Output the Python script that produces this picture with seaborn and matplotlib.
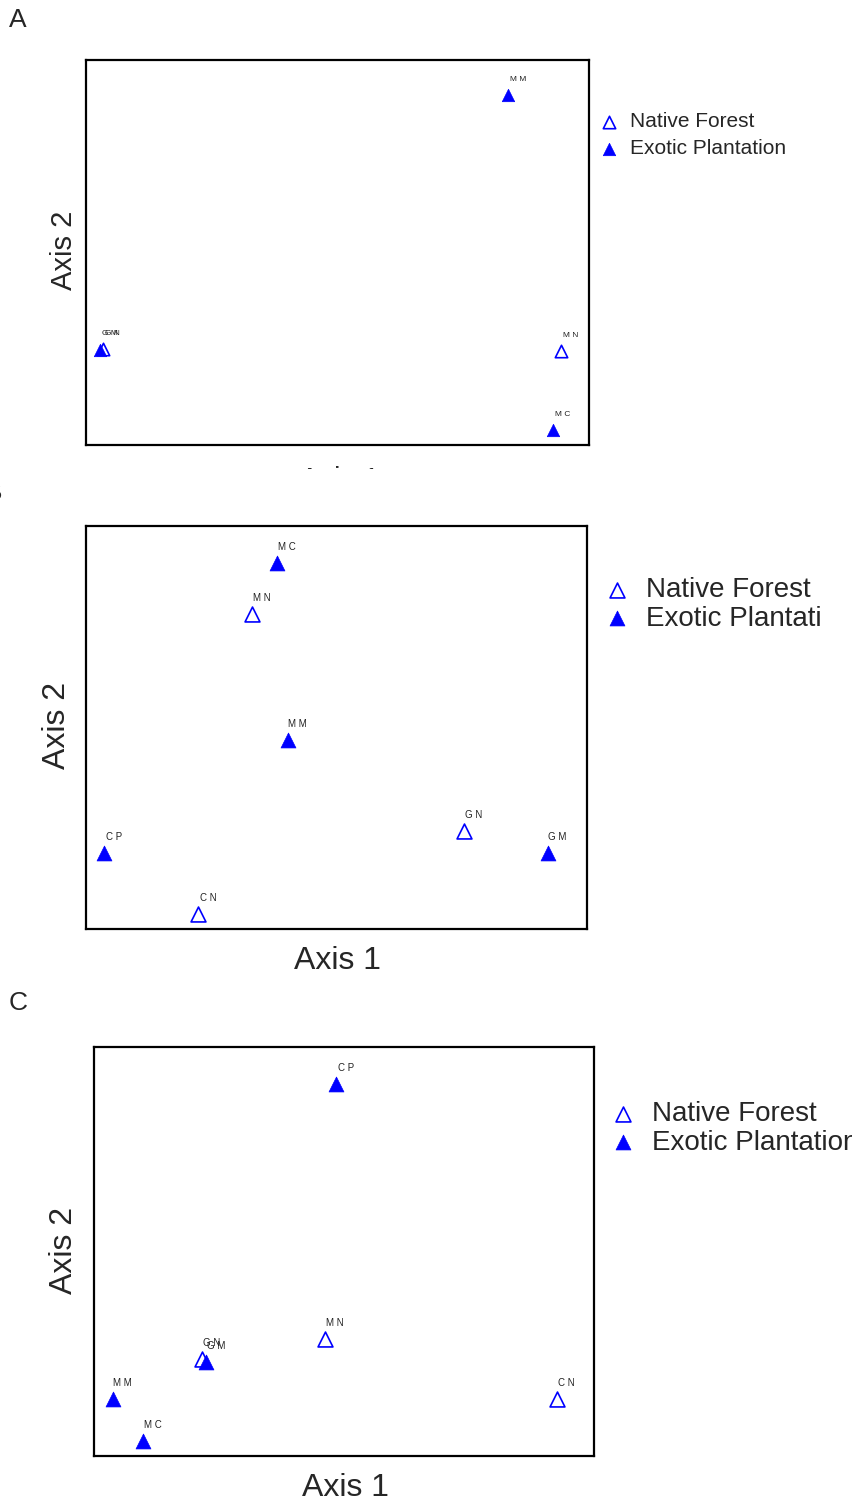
import matplotlib
matplotlib.use("Agg")
import matplotlib.pyplot as plt
from matplotlib.patches import Rectangle
import seaborn as sns
import pandas as pd

sns.set_style("white")
plt.rcParams["font.family"] = ["Liberation Sans", "DejaVu Sans"]

# ordination scores (scaled 0-100 on each axis)
sites_a = ["MM", "GM", "GN", "MN", "MC"]
x_a = [83.9, 2.8, 3.4, 94.4, 92.8]
y_a = [90.9, 24.7, 24.9, 24.4, 3.9]
type_a = ["Exotic", "Exotic", "Native", "Native", "Exotic"]

sites_b = ["MC", "MN", "MM", "GN", "GM", "CP", "CN"]
x_b = [38.1, 33.1, 40.3, 75.4, 92.2, 3.6, 22.4]
y_b = [90.8, 78.2, 46.9, 24.3, 18.9, 18.9, 3.7]
type_b = ["Exotic", "Native", "Exotic", "Native", "Exotic", "Exotic", "Native"]

sites_c = ["CP", "MN", "GN", "GM", "MM", "MC", "CN"]
x_c = [48.4, 46.2, 21.6, 22.4, 3.8, 9.8, 92.6]
y_c = [91.0, 28.6, 23.7, 23.0, 13.9, 3.7, 13.9]
type_c = ["Exotic", "Native", "Native", "Exotic", "Exotic", "Exotic", "Native"]

W, H = 853, 1504
fig = plt.figure(figsize=(W / 100, H / 100), dpi=100)


def px_box(x0, y0, x1, y1):
    return [x0 / W, 1 - y1 / H, (x1 - x0) / W, (y1 - y0) / H]


def panel(box, sites, xs, ys, types, msize, lab_fs):
    ax = fig.add_axes(px_box(*box))
    df = pd.DataFrame({"site": sites, "x": xs, "y": ys, "type": types})
    nat = df[df["type"] == "Native"]
    exo = df[df["type"] == "Exotic"]
    sns.scatterplot(data=nat, x="x", y="y", marker="^", s=msize, color="white",
                    edgecolor="blue", linewidth=1.2, label="Native Forest", ax=ax, zorder=3)
    sns.scatterplot(data=exo, x="x", y="y", marker="^", s=msize, color="blue",
                    edgecolor="blue", linewidth=0.5, label="Exotic Plantation", ax=ax, zorder=3)
    for _, r in df.iterrows():
        ax.annotate(" ".join(r["site"]), (r["x"], r["y"]), xytext=(7, 11.5),
                    textcoords="offset points", ha="center", va="center",
                    fontsize=lab_fs, color="#222222")
    ax.set_xlim(0, 100)
    ax.set_ylim(0, 100)
    ax.set_xticks([])
    ax.set_yticks([])
    ax.set_xlabel("")
    ax.set_ylabel("")
    for s in ax.spines.values():
        s.set_visible(True)
        s.set_color("black")
        s.set_linewidth(1.6)
    ax.get_legend().remove()
    return ax


def legend(ax, x, y, fs, pad, spacing):
    fig.legend(*ax.get_legend_handles_labels(), loc="upper left",
               bbox_to_anchor=(x / W, 1 - y / H), frameon=False,
               borderpad=0, borderaxespad=0, handlelength=1.0,
               handletextpad=pad, labelspacing=spacing,
               prop={"size": fs})


ax_a = panel((86, 60, 589, 445), sites_a, x_a, y_a, type_a, 80, 6)
ax_b = panel((86, 526, 587, 929), sites_b, x_b, y_b, type_b, 115, 7)
ax_c = panel((94, 1047, 594, 1456), sites_c, x_c, y_c, type_c, 115, 7)

legend(ax_a, 599, 112, 15, 0.5, 0.4)
legend(ax_b, 603, 577, 20, 0.55, 0.1)
legend(ax_c, 609, 1101, 20, 0.55, 0.1)

# panel letters
fig.text(18 / W, 1 - 20 / H, "A", fontsize=19, ha="center", va="center")
fig.text(-6 / W, 1 - 493 / H, "B", fontsize=19, ha="center", va="center")
fig.text(18 / W, 1 - 1003 / H, "C", fontsize=19, ha="center", va="center")

# axis titles
fig.text(64 / W, 1 - 250 / H, "Axis 2", rotation=90, fontsize=21, ha="center", va="center")
fig.text(57 / W, 1 - 725 / H, "Axis 2", rotation=90, fontsize=23, ha="center", va="center")
fig.text(64 / W, 1 - 1250 / H, "Axis 2", rotation=90, fontsize=23, ha="center", va="center")
fig.text(338 / W, 1 - 961 / H, "Axis 1", fontsize=23, ha="center", va="center")
fig.text(346 / W, 1 - 1488 / H, "Axis 1", fontsize=23, ha="center", va="center")
# panel A's x title is cut off by the panel crop, only its top edge shows
t = fig.text(340 / W, 1 - 480 / H, "Axis 1", fontsize=21, ha="center", va="center")
t.set_clip_path(Rectangle((0, 1 - 469 / H), 1, 469 / H, transform=fig.transFigure))

# panel B was cropped on the right
fig.add_artist(Rectangle((820 / W, 1 - 650 / H), 40 / W, 100 / H, transform=fig.transFigure,
                         facecolor="white", edgecolor="none", zorder=10))

fig.savefig("out.png", dpi=100)
